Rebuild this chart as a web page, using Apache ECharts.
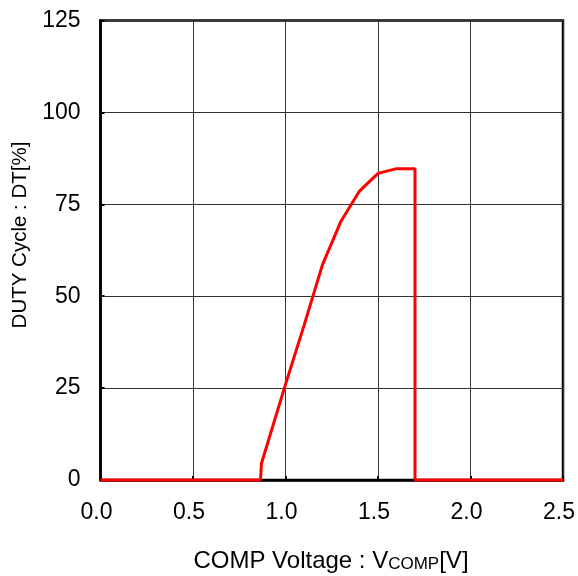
<!DOCTYPE html>
<html>
<head>
<meta charset="utf-8">
<script src="https://cdn.jsdelivr.net/npm/echarts@6/dist/echarts.min.js"></script>
<style>
html,body{margin:0;padding:0;background:#fff;}
#chart{width:578px;height:576px;}
</style>
</head>
<body>
<div id="chart"></div>
<script>
// COMP voltage [V]
var vcomp = [0, 0.865, 0.87, 1.0, 1.1, 1.2, 1.3, 1.4, 1.5, 1.6, 1.7, 1.7, 2.5];
// Duty cycle [%]
var duty  = [0, 0, 4.5, 26, 42, 58.6, 70.4, 78.6, 83.4, 84.7, 84.7, 0, 0];
var xTicks = [0, 0.5, 1.0, 1.5, 2.0, 2.5];
var yTicks = [0, 25, 50, 75, 100, 125];

var points = vcomp.map(function (v, i) { return [v, duty[i]]; });
var FONT = '"Liberation Sans", Arial, sans-serif';

var chart = echarts.init(document.getElementById('chart'), null, {renderer: 'canvas'});
chart.setOption({
  animation: false,
  backgroundColor: '#fff',
  grid: {
    left: 100.5, right: 14, top: 20.5, bottom: 96,
    show: true, borderColor: '#000', borderWidth: 2.5, backgroundColor: 'transparent'
  },
  xAxis: {
    type: 'value', min: xTicks[0], max: xTicks[xTicks.length - 1], interval: 0.5,
    axisLine: {show: true, lineStyle: {color: '#000', width: 2.5}},
    axisTick: {show: true, inside: true, length: 4, lineStyle: {color: '#000', width: 2}},
    splitLine: {show: true, lineStyle: {color: '#333', width: 1}},
    axisLabel: {
      margin: 21, color: '#000', fontFamily: FONT, fontSize: 23,
      formatter: function (v) { return v.toFixed(1); }, padding: [0, 8, 0, 0]
    }
  },
  yAxis: {
    type: 'value', min: yTicks[0], max: yTicks[yTicks.length - 1], interval: 25,
    axisLine: {show: true, lineStyle: {color: '#000', width: 2.5}},
    axisTick: {show: true, inside: true, length: 4, lineStyle: {color: '#000', width: 2}},
    splitLine: {show: true, lineStyle: {color: '#333', width: 1}},
    axisLabel: {margin: 20, color: '#000', fontFamily: FONT, fontSize: 23}
  },
  graphic: [
    {
      type: 'text', x: 20, y: 235, rotation: Math.PI / 2,
      style: {
        text: 'DUTY Cycle : DT[%]', fill: '#000', font: '20.5px ' + FONT,
        align: 'center', verticalAlign: 'middle'
      }
    },
    {
      type: 'text', x: 331, y: 561,
      style: {
        text: '{n|COMP Voltage : V}{s|COMP}{n|[V]}',
        align: 'center', verticalAlign: 'middle',
        rich: {
          n: {fontFamily: FONT, fontSize: 24, fill: '#000', color: '#000', verticalAlign: 'bottom'},
          s: {fontFamily: FONT, fontSize: 17, fill: '#000', color: '#000', verticalAlign: 'bottom'}
        }
      }
    }
  ],
  series: [{
    type: 'line', data: points, showSymbol: false, symbol: 'none', clip: false, z: 5,
    lineStyle: {color: '#ff0000', width: 3}
  }]
});
</script>
</body>
</html>
